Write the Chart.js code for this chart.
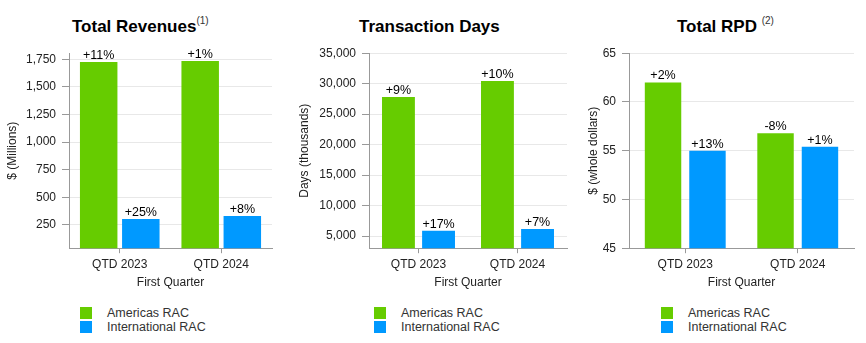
<!DOCTYPE html>
<html>
<head>
<meta charset="utf-8">
<script src="https://cdn.jsdelivr.net/npm/chart.js@4"></script>
<style>
body { margin: 0; background: #fff; font-family: Arial, "Liberation Sans", sans-serif; }
#wrap { position: relative; width: 866px; height: 343px; overflow: hidden; }
.title { position: absolute; top: 17px; font-size: 17px; font-weight: bold; color: #000; white-space: nowrap; line-height: 20px; }
.title sup { font-size: 10px; font-weight: normal; color: #333; vertical-align: top; position: relative; top: -6px; }
canvas { position: absolute; top: 40px; }
.legend { position: absolute; top: 306px; font-size: 12.5px; color: #333; }
.legend div { position: relative; height: 14px; line-height: 14px; padding-left: 27px; white-space: nowrap; }
.legend span { position: absolute; left: 0; top: 1px; width: 12px; height: 12px; }
</style>
</head>
<body>
<div id="wrap">
  <div class="title" style="left:72px">Total Revenues<sup>(1)</sup></div>
  <div class="title" style="left:359px">Transaction Days</div>
  <div class="title" style="left:677px">Total RPD <sup>(2)</sup></div>

  <canvas id="rev" width="290" height="253" style="left:0px"></canvas>
  <canvas id="days" width="290" height="253" style="left:290px"></canvas>
  <canvas id="rpd" width="286" height="253" style="left:580px"></canvas>

  <div class="legend" style="left:80px"><div><span style="background:#66cc00"></span>Americas RAC</div><div><span style="background:#0099ff"></span>International RAC</div></div>
  <div class="legend" style="left:374px"><div><span style="background:#66cc00"></span>Americas RAC</div><div><span style="background:#0099ff"></span>International RAC</div></div>
  <div class="legend" style="left:661px"><div><span style="background:#66cc00"></span>Americas RAC</div><div><span style="background:#0099ff"></span>International RAC</div></div>
</div>

<script>
const quarters = ['QTD 2023', 'QTD 2024'];
const seriesNames = ['Americas RAC', 'International RAC'];

// Total Revenues ($ millions)
const revAmericas = [1725, 1734];
const revIntl = [305, 332];
const revAmericasPct = ['+11%', '+1%'];
const revIntlPct = ['+25%', '+8%'];
const revTicks = [250, 500, 750, 1000, 1250, 1500, 1750];

// Transaction Days (thousands)
const daysAmericas = [27800, 30440];
const daysIntl = [5880, 6150];
const daysAmericasPct = ['+9%', '+10%'];
const daysIntlPct = ['+17%', '+7%'];
const daysTicks = [5000, 10000, 15000, 20000, 25000, 30000, 35000];

// Total RPD (whole dollars)
const rpdAmericas = [62.0, 56.8];
const rpdIntl = [55.0, 55.4];
const rpdAmericasPct = ['+2%', '-8%'];
const rpdIntlPct = ['+13%', '+1%'];
const rpdTicks = [45, 50, 55, 60, 65];

const GREEN = '#66cc00';
const BLUE = '#0099ff';
const FONT = 'Arial, "Liberation Sans", sans-serif';

// draws the % change text above each bar
const pctLabels = {
    id: 'pctLabels',
    afterDatasetsDraw(chart) {
        const ctx = chart.ctx;
        ctx.save();
        ctx.font = '12.5px ' + FONT;
        ctx.fillStyle = '#000';
        ctx.textAlign = 'center';
        ctx.textBaseline = 'alphabetic';
        chart.data.datasets.forEach((ds, i) => {
            chart.getDatasetMeta(i).data.forEach((bar, j) => {
                ctx.fillText(ds.pct[j], bar.x, bar.y - 3);
            });
        });
        ctx.restore();
    }
};

function makeChart(id, americas, intl, amPct, inPct, tickVals, min, max, yTitle, opt) {
    const ctx = document.getElementById(id).getContext('2d');
    return new Chart(ctx, {
        type: 'bar',
        data: {
            labels: quarters,
            datasets: [
                { label: seriesNames[0], data: americas, pct: amPct, backgroundColor: GREEN,
                  categoryPercentage: opt.cat, barPercentage: opt.bar },
                { label: seriesNames[1], data: intl, pct: inPct, backgroundColor: BLUE,
                  categoryPercentage: opt.cat, barPercentage: opt.bar }
            ]
        },
        options: {
            responsive: false,
            animation: false,
            layout: { padding: { top: 13, left: opt.padLeft, right: opt.padRight, bottom: 0 } },
            plugins: {
                legend: { display: false },
                tooltip: { enabled: false }
            },
            scales: {
                x: {
                    grid: { drawOnChartArea: false, drawTicks: true, tickLength: 5, offset: false, tickColor: '#999' },
                    border: { color: '#999' },
                    ticks: { font: { size: 12, family: FONT }, color: '#222', padding: 4 },
                    title: { display: true, text: 'First Quarter', font: { size: 12, family: FONT }, color: '#222',
                             padding: { top: 0, bottom: 3 } }
                },
                y: {
                    min: min,
                    max: max,
                    afterBuildTicks: s => { s.ticks = tickVals.map(v => ({ value: v })); },
                    afterFit: s => { s.width = opt.plotLeft - opt.padLeft; },
                    grid: { color: '#e8e8e8', tickColor: '#999', tickLength: 7 },
                    border: { color: '#999' },
                    ticks: { font: { size: 12, family: FONT }, color: '#222', padding: 6,
                             callback: v => v.toLocaleString('en-US') },
                    title: { display: true, text: yTitle, font: { size: 12, family: FONT }, color: '#222',
                             padding: { top: 4, bottom: 0 } }
                }
            }
        },
        plugins: [pctLabels]
    });
}

window.onload = function () {
    makeChart('rev', revAmericas, revIntl, revAmericasPct, revIntlPct, revTicks, 40, 1805, '$ (Millions)',
        { plotLeft: 69, padLeft: 1, padRight: 18, cat: 0.83, bar: 0.89 });
    makeChart('days', daysAmericas, daysIntl, daysAmericasPct, daysIntlPct, daysTicks, 3000, 35000, 'Days (thousands)',
        { plotLeft: 79, padLeft: 3, padRight: 13, cat: 0.81, bar: 0.82 });
    makeChart('rpd', rpdAmericas, rpdIntl, rpdAmericasPct, rpdIntlPct, rpdTicks, 45, 65, '$ (whole dollars)',
        { plotLeft: 49, padLeft: 2, padRight: 12, cat: 0.79, bar: 0.82 });
};
</script>
</body>
</html>
